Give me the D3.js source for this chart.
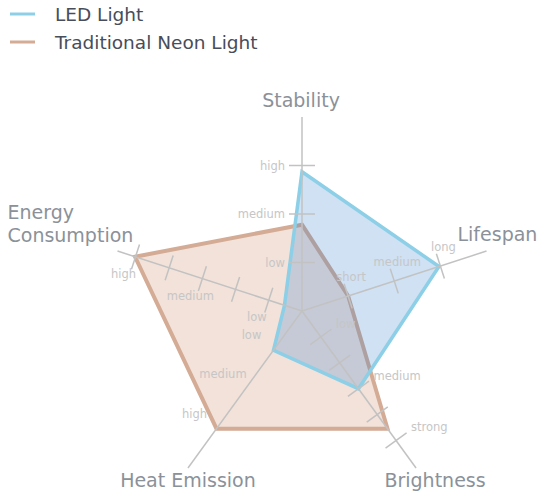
<!DOCTYPE html>
<html>
<head>
<meta charset="utf-8">
<script src="https://cdn.jsdelivr.net/npm/d3@7"></script>
<style>
  body { margin: 0; background: #fff; }
  svg { display: block; font-family: "DejaVu Sans", sans-serif; }
</style>
</head>
<body>
<svg width="539" height="493"></svg>
<script>
// axes go clockwise from the top
var axes = ["Stability", "Lifespan", "Brightness", "Heat Emission", "Energy Consumption"];
var ledValues = [2.87, 2.97, 1.98, 1.0, 0.38];
var neonValues = [1.78, 1.0, 3.0, 3.0, 3.62];

var stabilityTicks = [1, 2, 3];
var stabilityLabels = ["low", "medium", "high"];
var lifespanTicks = [1, 2, 3];
var lifespanLabels = ["short", "medium", "long"];
var brightnessTicks = [0.66, 1.32, 1.98, 2.64, 3.3];
var brightnessLabels = ["low", "", "medium", "", "strong"];
var heatTicks = [1, 2, 3];
var heatLabels = ["low", "medium", "high"];
var energyTicks = [0.72, 1.44, 2.16, 2.88, 3.61];
var energyLabels = ["low", "", "medium", "", "high"];

var series = ["LED Light", "Traditional Neon Light"];

var svg = d3.select("svg");
var cx = 302, cy = 311;

var r = d3.scaleLinear().domain([0, 4]).range([0, 194]);
var angle = d3.scalePoint().domain(axes).range([0, 2 * Math.PI * 4 / 5]);

function pt(axis, v) {
    var a = angle(axis);
    return [cx + r(v) * Math.sin(a), cy - r(v) * Math.cos(a)];
}

var g = svg.append("g").attr("transform", "translate(" + cx + "," + cy + ")");

var radial = d3.lineRadial()
    .angle(function(d, i) { return angle(axes[i]); })
    .radius(function(d) { return r(d); })
    .curve(d3.curveLinearClosed);

// neon first, led on top with see-through fill
g.append("path")
    .attr("d", radial(neonValues))
    .attr("fill", "#f2e2da")
    .attr("stroke", "#d4ab95")
    .attr("stroke-width", 4)
    .attr("stroke-linejoin", "miter");

// axis lines
var axisG = svg.append("g");
axes.forEach(function(a) {
    var p = pt(a, 4);
    axisG.append("line")
        .attr("x1", cx).attr("y1", cy)
        .attr("x2", p[0]).attr("y2", p[1])
        .attr("stroke", "#c2c2c2")
        .attr("stroke-width", 1.5);
});

var tickSets = [
    { axis: "Stability", ticks: stabilityTicks, labels: stabilityLabels, marks: true, dx: -17, dy: 4, anchor: "end" },
    { axis: "Lifespan", ticks: lifespanTicks, labels: lifespanLabels, marks: true, dx: 3, dy: -15, anchor: "middle" },
    { axis: "Brightness", ticks: brightnessTicks, labels: brightnessLabels, marks: true, dx: 15, dy: -9, anchor: "start" },
    { axis: "Heat Emission", ticks: heatTicks, labels: heatLabels, marks: false, dx: -22, dy: -11, anchor: "middle" },
    { axis: "Energy Consumption", ticks: energyTicks, labels: energyLabels, marks: true, dx: -12, dy: 21, anchor: "middle" }
];

tickSets.forEach(function(s) {
    var a = angle(s.axis);
    var px = Math.cos(a), py = Math.sin(a); // perpendicular to axis
    s.ticks.forEach(function(t, i) {
        var p = pt(s.axis, t);
        if (s.marks) {
            axisG.append("line")
                .attr("x1", p[0] - px * 13).attr("y1", p[1] - py * 13)
                .attr("x2", p[0] + px * 13).attr("y2", p[1] + py * 13)
                .attr("stroke", "#c2c2c2")
                .attr("stroke-width", 1.5);
        }
        if (s.labels[i]) {
            axisG.append("text")
                .attr("x", p[0] + s.dx)
                .attr("y", p[1] + s.dy)
                .attr("text-anchor", s.anchor)
                .attr("font-size", 11.5)
                .attr("fill", "#c6c6c6")
                .text(s.labels[i]);
        }
    });
});

g.append("path")
    .attr("d", radial(ledValues))
    .attr("fill", "rgb(47,126,204)")
    .attr("fill-opacity", 0.23)
    .attr("stroke", "#8ccfe6")
    .attr("stroke-width", 3.5)
    .attr("stroke-linejoin", "miter");

// axis titles
var titlePos = {
    "Stability": { dx: -1, dy: -10, anchor: "middle" },
    "Lifespan": { dx: -29, dy: -10, anchor: "start" },
    "Brightness": { dx: 19, dy: 19, anchor: "middle" },
    "Heat Emission": { dx: 0, dy: 19, anchor: "middle" },
    "Energy Consumption": { dx: -110, dy: -32, anchor: "start" }
};

axes.forEach(function(a) {
    var p = pt(a, 4), o = titlePos[a];
    var t = svg.append("text")
        .attr("x", p[0] + o.dx)
        .attr("y", p[1] + o.dy)
        .attr("text-anchor", o.anchor)
        .attr("font-size", 19)
        .attr("fill", "#8b9199");
    var words = a === "Energy Consumption" ? ["Energy", "Consumption"] : [a];
    words.forEach(function(w, i) {
        t.append("tspan")
            .attr("x", p[0] + o.dx)
            .attr("dy", i === 0 ? 0 : 23)
            .text(w);
    });
});

// legend
var legendColors = ["#8ccfe6", "#d4ab95"];
var legend = svg.append("g");
series.forEach(function(s, i) {
    var y = 14 + i * 28;
    legend.append("line")
        .attr("x1", 10).attr("x2", 35)
        .attr("y1", y).attr("y2", y)
        .attr("stroke", legendColors[i])
        .attr("stroke-width", 3);
    legend.append("text")
        .attr("x", 55).attr("y", y + 7)
        .attr("font-size", 18.5)
        .attr("fill", "#474d5a")
        .text(s);
});
</script>
</body>
</html>
